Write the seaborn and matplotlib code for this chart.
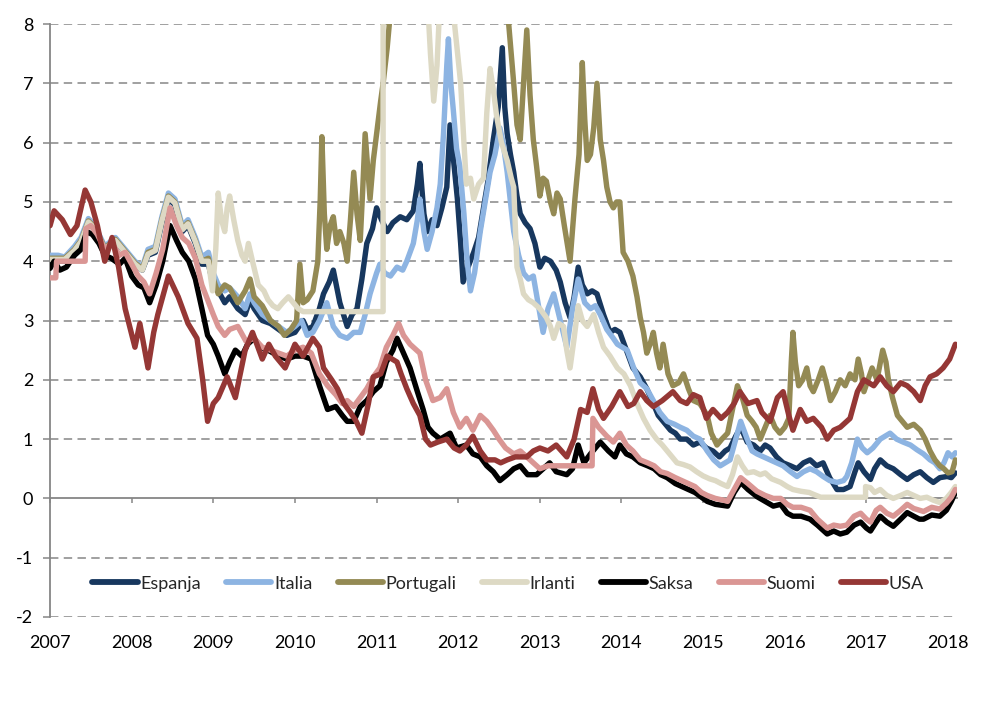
import matplotlib
matplotlib.use("Agg")
import matplotlib.pyplot as plt
import seaborn as sns
import pandas as pd

sns.set_style("white")
plt.rcParams["font.family"] = ["Lato", "DejaVu Sans"]
plt.rcParams["axes.unicode_minus"] = False

# (decimal year, yield %)
espanja = [
    (2007.0, 4.0), (2007.1, 4.0), (2007.18, 4.0), (2007.3, 4.2), (2007.38, 4.35), (2007.47, 4.65),
    (2007.55, 4.55), (2007.67, 4.2), (2007.8, 4.35), (2007.92, 4.15), (2008.04, 3.95), (2008.13, 3.85),
    (2008.2, 4.1), (2008.29, 4.15), (2008.37, 4.65), (2008.45, 5.05), (2008.53, 4.95), (2008.62, 4.5),
    (2008.69, 4.6), (2008.78, 4.3), (2008.86, 3.95), (2008.94, 3.95), (2009.0, 3.6), (2009.06, 3.5),
    (2009.14, 3.3), (2009.2, 3.4), (2009.3, 3.2), (2009.39, 3.1), (2009.45, 3.35), (2009.5, 3.2),
    (2009.6, 3.0), (2009.7, 2.95), (2009.8, 2.85), (2009.9, 2.75), (2010.0, 2.8), (2010.1, 3.0),
    (2010.15, 2.85), (2010.22, 2.9), (2010.3, 3.2), (2010.35, 3.45), (2010.42, 3.65), (2010.47, 3.85),
    (2010.55, 3.3), (2010.64, 2.9), (2010.7, 3.1), (2010.76, 3.2), (2010.82, 3.7), (2010.88, 4.3),
    (2010.95, 4.55), (2011.0, 4.9), (2011.06, 4.7), (2011.13, 4.5), (2011.2, 4.65), (2011.29, 4.75),
    (2011.37, 4.7), (2011.45, 4.85), (2011.5, 5.3), (2011.53, 5.65), (2011.58, 4.8), (2011.62, 4.5),
    (2011.68, 4.7), (2011.74, 4.6), (2011.8, 4.9), (2011.86, 5.25), (2011.9, 6.3), (2011.95, 5.6),
    (2011.99, 5.05), (2012.03, 4.3), (2012.06, 3.65), (2012.12, 3.9), (2012.19, 4.15), (2012.25, 4.4),
    (2012.31, 4.9), (2012.37, 5.4), (2012.43, 6.05), (2012.49, 6.6), (2012.54, 7.6), (2012.57, 6.6),
    (2012.6, 6.15), (2012.64, 5.8), (2012.68, 5.5), (2012.72, 5.1), (2012.76, 4.8), (2012.82, 4.65),
    (2012.88, 4.55), (2012.94, 4.3), (2013.0, 3.9), (2013.06, 4.05), (2013.13, 4.0), (2013.2, 3.85),
    (2013.25, 3.65), (2013.31, 3.3), (2013.37, 3.05), (2013.42, 3.4), (2013.47, 3.9), (2013.52, 3.6),
    (2013.58, 3.45), (2013.64, 3.5), (2013.7, 3.45), (2013.78, 3.1), (2013.86, 2.8), (2013.92, 2.85),
    (2013.98, 2.8), (2014.06, 2.5), (2014.14, 2.2), (2014.23, 2.05), (2014.31, 1.85), (2014.39, 1.6),
    (2014.45, 1.4), (2014.51, 1.3), (2014.6, 1.15), (2014.66, 1.1), (2014.72, 1.0), (2014.8, 1.0),
    (2014.88, 0.9), (2014.96, 0.95), (2015.04, 0.85), (2015.12, 0.8), (2015.2, 0.7), (2015.27, 0.8),
    (2015.33, 0.85), (2015.4, 1.05), (2015.46, 1.2), (2015.54, 0.95), (2015.62, 0.9), (2015.7, 0.8),
    (2015.76, 0.9), (2015.82, 0.85), (2015.9, 0.7), (2015.98, 0.6), (2016.07, 0.55), (2016.15, 0.5),
    (2016.23, 0.6), (2016.31, 0.65), (2016.39, 0.55), (2016.47, 0.6), (2016.55, 0.35), (2016.64, 0.15),
    (2016.72, 0.15), (2016.8, 0.2), (2016.86, 0.45), (2016.9, 0.6), (2016.97, 0.45), (2017.05, 0.32),
    (2017.1, 0.5), (2017.17, 0.65), (2017.25, 0.55), (2017.33, 0.5), (2017.42, 0.4), (2017.5, 0.32),
    (2017.58, 0.4), (2017.66, 0.45), (2017.74, 0.35), (2017.82, 0.27), (2017.9, 0.35), (2017.99, 0.37),
    (2018.04, 0.35), (2018.09, 0.43),
]

italia = [
    (2007.0, 4.1), (2007.1, 4.1), (2007.18, 4.07), (2007.3, 4.25), (2007.38, 4.4), (2007.47, 4.72),
    (2007.55, 4.6), (2007.67, 4.25), (2007.8, 4.4), (2007.92, 4.2), (2008.04, 4.0), (2008.13, 3.9),
    (2008.2, 4.2), (2008.29, 4.25), (2008.37, 4.75), (2008.45, 5.15), (2008.53, 5.05), (2008.62, 4.6),
    (2008.69, 4.7), (2008.78, 4.4), (2008.86, 4.07), (2008.94, 4.15), (2009.0, 3.8), (2009.06, 3.6),
    (2009.14, 3.5), (2009.2, 3.55), (2009.3, 3.4), (2009.39, 3.2), (2009.45, 3.45), (2009.5, 3.3),
    (2009.6, 3.1), (2009.7, 3.0), (2009.8, 2.9), (2009.9, 2.8), (2010.0, 2.9), (2010.08, 3.0),
    (2010.15, 2.75), (2010.22, 2.8), (2010.3, 3.0), (2010.39, 3.3), (2010.47, 2.9), (2010.55, 2.75),
    (2010.64, 2.7), (2010.72, 2.8), (2010.8, 2.8), (2010.86, 3.1), (2010.92, 3.45), (2011.0, 3.8),
    (2011.04, 3.95), (2011.1, 3.8), (2011.17, 3.75), (2011.25, 3.9), (2011.32, 3.85), (2011.37, 4.0),
    (2011.45, 4.3), (2011.5, 4.7), (2011.53, 5.05), (2011.58, 4.5), (2011.62, 4.2), (2011.68, 4.5),
    (2011.74, 4.9), (2011.78, 5.3), (2011.82, 6.15), (2011.86, 7.3), (2011.88, 7.75), (2011.91, 7.0),
    (2011.94, 6.55), (2011.98, 5.9), (2012.02, 5.6), (2012.07, 4.8), (2012.11, 4.0), (2012.15, 3.5),
    (2012.2, 3.8), (2012.27, 4.5), (2012.33, 5.0), (2012.39, 5.5), (2012.45, 5.8), (2012.51, 6.25),
    (2012.55, 6.0), (2012.6, 5.5), (2012.64, 5.0), (2012.68, 4.5), (2012.74, 4.1), (2012.8, 3.8),
    (2012.86, 3.7), (2012.92, 3.75), (2012.97, 3.35), (2013.04, 2.8), (2013.1, 3.2), (2013.17, 3.45),
    (2013.25, 3.0), (2013.33, 2.55), (2013.4, 3.2), (2013.47, 3.7), (2013.55, 3.3), (2013.62, 3.2),
    (2013.68, 3.25), (2013.74, 3.1), (2013.82, 2.85), (2013.9, 2.7), (2013.95, 2.6), (2014.07, 2.5),
    (2014.15, 2.2), (2014.23, 1.95), (2014.31, 1.85), (2014.39, 1.65), (2014.47, 1.45), (2014.56, 1.3),
    (2014.65, 1.25), (2014.72, 1.2), (2014.8, 1.15), (2014.88, 1.05), (2014.96, 1.0), (2015.05, 0.8),
    (2015.13, 0.65), (2015.21, 0.55), (2015.27, 0.6), (2015.33, 0.65), (2015.4, 1.0), (2015.46, 1.3),
    (2015.54, 1.0), (2015.6, 0.8), (2015.66, 0.75), (2015.74, 0.7), (2015.82, 0.65), (2015.9, 0.6),
    (2015.98, 0.55), (2016.07, 0.45), (2016.15, 0.37), (2016.23, 0.45), (2016.31, 0.5), (2016.39, 0.45),
    (2016.47, 0.37), (2016.55, 0.3), (2016.64, 0.27), (2016.72, 0.3), (2016.76, 0.37), (2016.82, 0.6),
    (2016.89, 1.0), (2016.95, 0.85), (2017.01, 0.77), (2017.08, 0.85), (2017.17, 1.0), (2017.23, 1.05),
    (2017.29, 1.1), (2017.37, 1.0), (2017.45, 0.95), (2017.54, 0.9), (2017.62, 0.82), (2017.7, 0.75),
    (2017.78, 0.65), (2017.84, 0.6), (2017.9, 0.5), (2017.95, 0.6), (2018.0, 0.77), (2018.05, 0.7),
    (2018.09, 0.77),
]

portugali = [
    (2007.0, 4.05), (2007.1, 4.05), (2007.18, 4.05), (2007.3, 4.2), (2007.38, 4.35), (2007.47, 4.68),
    (2007.55, 4.57), (2007.67, 4.22), (2007.8, 4.37), (2007.92, 4.17), (2008.04, 3.97), (2008.13, 3.87),
    (2008.2, 4.15), (2008.29, 4.2), (2008.37, 4.7), (2008.45, 5.1), (2008.53, 5.0), (2008.62, 4.55),
    (2008.69, 4.65), (2008.78, 4.35), (2008.86, 4.0), (2008.94, 4.05), (2009.0, 3.7), (2009.06, 3.45),
    (2009.14, 3.6), (2009.2, 3.55), (2009.3, 3.3), (2009.39, 3.5), (2009.45, 3.7), (2009.5, 3.4),
    (2009.6, 3.25), (2009.7, 3.0), (2009.8, 2.9), (2009.87, 2.75), (2009.95, 2.85), (2010.02, 3.0),
    (2010.06, 3.95), (2010.1, 3.3), (2010.15, 3.35), (2010.22, 3.5), (2010.28, 4.0), (2010.31, 5.05),
    (2010.33, 6.1), (2010.36, 4.8), (2010.39, 4.2), (2010.43, 4.6), (2010.47, 4.75), (2010.51, 4.3),
    (2010.55, 4.5), (2010.6, 4.3), (2010.64, 4.0), (2010.68, 4.7), (2010.72, 5.5), (2010.76, 4.8),
    (2010.8, 4.35), (2010.83, 5.2), (2010.86, 6.15), (2010.89, 5.6), (2010.92, 5.05), (2010.96, 5.7),
    (2011.0, 6.15), (2011.05, 6.7), (2011.08, 7.0), (2011.13, 7.6), (2011.17, 8.2), (2011.25, 9.5),
    (2011.5, 11.0), (2012.0, 13.0), (2012.4, 10.0), (2012.6, 8.3), (2012.68, 7.0), (2012.72, 6.3),
    (2012.76, 6.05), (2012.8, 7.0), (2012.84, 7.9), (2012.88, 6.8), (2012.92, 6.05), (2012.96, 5.6),
    (2013.0, 5.1), (2013.04, 5.4), (2013.08, 5.35), (2013.13, 5.0), (2013.17, 4.8), (2013.21, 5.15),
    (2013.25, 5.05), (2013.3, 4.6), (2013.37, 4.0), (2013.43, 5.05), (2013.48, 5.8), (2013.52, 7.35),
    (2013.55, 6.4), (2013.58, 5.7), (2013.62, 5.8), (2013.66, 6.25), (2013.7, 7.0), (2013.74, 6.05),
    (2013.78, 5.7), (2013.82, 5.25), (2013.86, 5.0), (2013.9, 4.9), (2013.94, 5.0), (2013.98, 5.0),
    (2014.02, 4.15), (2014.08, 4.0), (2014.14, 3.75), (2014.19, 3.4), (2014.23, 3.05), (2014.27, 2.8),
    (2014.31, 2.45), (2014.35, 2.6), (2014.39, 2.8), (2014.43, 2.45), (2014.47, 2.2), (2014.51, 2.6),
    (2014.57, 2.1), (2014.63, 1.9), (2014.7, 1.95), (2014.76, 2.1), (2014.82, 1.85), (2014.88, 1.65),
    (2014.96, 1.6), (2015.05, 1.4), (2015.1, 1.1), (2015.17, 0.9), (2015.23, 1.0), (2015.3, 1.1),
    (2015.36, 1.5), (2015.42, 1.9), (2015.48, 1.7), (2015.54, 1.4), (2015.6, 1.3), (2015.65, 1.2),
    (2015.7, 1.0), (2015.76, 1.2), (2015.82, 1.4), (2015.88, 1.2), (2015.94, 1.1), (2016.0, 1.2),
    (2016.05, 1.35), (2016.08, 2.3), (2016.1, 2.8), (2016.13, 2.3), (2016.17, 1.9), (2016.22, 2.0),
    (2016.27, 2.2), (2016.31, 1.9), (2016.35, 1.8), (2016.41, 2.0), (2016.46, 2.2), (2016.51, 1.95),
    (2016.56, 1.65), (2016.62, 1.8), (2016.68, 2.0), (2016.74, 1.9), (2016.8, 2.1), (2016.86, 2.0),
    (2016.9, 2.35), (2016.94, 2.1), (2016.97, 1.8), (2017.02, 2.0), (2017.07, 2.2), (2017.13, 2.0),
    (2017.2, 2.5), (2017.24, 2.3), (2017.27, 2.0), (2017.32, 1.7), (2017.38, 1.4), (2017.44, 1.3),
    (2017.5, 1.2), (2017.58, 1.25), (2017.66, 1.15), (2017.72, 1.0), (2017.78, 0.8), (2017.84, 0.65),
    (2017.9, 0.55), (2017.95, 0.5), (2018.0, 0.43), (2018.05, 0.45), (2018.09, 0.65),
]

irlanti = [
    (2007.0, 4.03), (2007.1, 4.03), (2007.18, 4.03), (2007.3, 4.18), (2007.38, 4.33), (2007.47, 4.66),
    (2007.55, 4.55), (2007.67, 4.2), (2007.8, 4.35), (2007.92, 4.15), (2008.04, 3.95), (2008.13, 3.85),
    (2008.2, 4.12), (2008.29, 4.18), (2008.37, 4.68), (2008.45, 5.08), (2008.53, 4.98), (2008.62, 4.53),
    (2008.69, 4.63), (2008.78, 4.33), (2008.86, 4.0), (2008.94, 4.0), (2008.99, 3.5), (2009.03, 4.2),
    (2009.06, 5.15), (2009.1, 4.7), (2009.14, 4.5), (2009.17, 4.9), (2009.2, 5.1), (2009.25, 4.7),
    (2009.3, 4.35), (2009.35, 4.1), (2009.39, 4.0), (2009.43, 4.3), (2009.48, 4.0), (2009.55, 3.6),
    (2009.62, 3.5), (2009.67, 3.35), (2009.73, 3.25), (2009.79, 3.2), (2009.85, 3.3), (2009.92, 3.4),
    (2009.98, 3.3), (2010.04, 3.2), (2010.1, 3.15), (2011.08, 3.15), (2011.08, 10.0), (2011.6, 9.0),
    (2011.66, 7.5), (2011.7, 6.7), (2011.74, 7.3), (2011.78, 8.5), (2011.88, 9.5), (2011.94, 8.2),
    (2012.03, 7.0), (2012.07, 6.0), (2012.1, 5.3), (2012.15, 5.4), (2012.19, 5.05), (2012.25, 5.3),
    (2012.31, 5.4), (2012.35, 6.5), (2012.39, 7.25), (2012.43, 6.9), (2012.47, 6.45), (2012.53, 6.0),
    (2012.6, 5.7), (2012.65, 5.4), (2012.68, 5.25), (2012.72, 3.9), (2012.76, 3.7), (2012.8, 3.45),
    (2012.86, 3.35), (2012.92, 3.3), (2013.0, 3.2), (2013.08, 3.05), (2013.13, 2.9), (2013.17, 2.7),
    (2013.23, 2.95), (2013.29, 2.9), (2013.33, 2.5), (2013.37, 2.2), (2013.42, 2.7), (2013.47, 3.25),
    (2013.52, 3.0), (2013.58, 2.9), (2013.66, 3.1), (2013.72, 2.8), (2013.78, 2.55), (2013.86, 2.4),
    (2013.95, 2.2), (2014.03, 2.1), (2014.11, 1.9), (2014.19, 1.6), (2014.27, 1.35), (2014.35, 1.15),
    (2014.43, 1.0), (2014.5, 0.9), (2014.56, 0.8), (2014.62, 0.7), (2014.68, 0.6), (2014.76, 0.57),
    (2014.84, 0.53), (2014.92, 0.45), (2015.0, 0.38), (2015.08, 0.33), (2015.15, 0.3), (2015.22, 0.25),
    (2015.3, 0.2), (2015.36, 0.4), (2015.42, 0.7), (2015.48, 0.55), (2015.54, 0.43), (2015.62, 0.45),
    (2015.7, 0.4), (2015.76, 0.43), (2015.84, 0.33), (2015.95, 0.27), (2016.03, 0.2), (2016.1, 0.15),
    (2016.2, 0.12), (2016.3, 0.1), (2016.35, 0.07), (2016.44, 0.02), (2016.99, 0.02), (2016.99, 0.2),
    (2017.05, 0.18), (2017.1, 0.1), (2017.17, 0.15), (2017.25, 0.05), (2017.33, 0.0), (2017.42, 0.05),
    (2017.5, 0.1), (2017.58, 0.05), (2017.66, 0.0), (2017.74, 0.02), (2017.82, -0.03), (2017.9, -0.07),
    (2017.98, 0.0), (2018.04, 0.1), (2018.09, 0.2),
]

saksa = [
    (2007.0, 3.88), (2007.05, 4.0), (2007.12, 3.85), (2007.2, 3.9), (2007.3, 4.1), (2007.38, 4.2),
    (2007.45, 4.5), (2007.52, 4.45), (2007.6, 4.3), (2007.67, 4.1), (2007.75, 4.05), (2007.85, 3.95),
    (2007.92, 4.05), (2008.0, 3.75), (2008.08, 3.6), (2008.15, 3.55), (2008.22, 3.3), (2008.3, 3.6),
    (2008.38, 4.0), (2008.47, 4.6), (2008.55, 4.35), (2008.62, 4.15), (2008.7, 4.0), (2008.78, 3.7),
    (2008.86, 3.2), (2008.93, 2.75), (2009.0, 2.6), (2009.06, 2.4), (2009.14, 2.1), (2009.2, 2.3),
    (2009.27, 2.5), (2009.35, 2.4), (2009.42, 2.6), (2009.5, 2.7), (2009.58, 2.55), (2009.67, 2.5),
    (2009.8, 2.4), (2009.9, 2.35), (2010.0, 2.4), (2010.1, 2.4), (2010.2, 2.35), (2010.3, 1.9),
    (2010.4, 1.5), (2010.5, 1.55), (2010.58, 1.4), (2010.64, 1.3), (2010.72, 1.3), (2010.8, 1.55),
    (2010.88, 1.65), (2010.96, 1.8), (2011.04, 1.9), (2011.12, 2.3), (2011.2, 2.5), (2011.25, 2.7),
    (2011.33, 2.45), (2011.41, 2.2), (2011.5, 1.8), (2011.57, 1.5), (2011.63, 1.2), (2011.69, 1.1),
    (2011.78, 1.0), (2011.9, 1.1), (2011.98, 0.85), (2012.1, 0.9), (2012.18, 0.75), (2012.27, 0.7),
    (2012.35, 0.55), (2012.43, 0.45), (2012.51, 0.3), (2012.6, 0.4), (2012.68, 0.5), (2012.76, 0.55),
    (2012.85, 0.4), (2012.96, 0.4), (2013.04, 0.5), (2013.12, 0.6), (2013.2, 0.45), (2013.33, 0.4),
    (2013.4, 0.5), (2013.47, 0.9), (2013.54, 0.6), (2013.62, 0.75), (2013.74, 0.95), (2013.84, 0.8),
    (2013.92, 0.7), (2013.98, 0.9), (2014.06, 0.75), (2014.14, 0.7), (2014.23, 0.6), (2014.32, 0.55),
    (2014.4, 0.5), (2014.48, 0.4), (2014.56, 0.35), (2014.66, 0.25), (2014.74, 0.2), (2014.82, 0.15),
    (2014.9, 0.1), (2014.98, 0.02), (2015.05, -0.05), (2015.15, -0.1), (2015.25, -0.12), (2015.3, -0.13),
    (2015.38, 0.1), (2015.46, 0.27), (2015.55, 0.15), (2015.66, 0.03), (2015.76, -0.05), (2015.86, -0.13),
    (2015.95, -0.1), (2016.03, -0.25), (2016.1, -0.3), (2016.2, -0.3), (2016.31, -0.35), (2016.4, -0.45),
    (2016.52, -0.6), (2016.6, -0.55), (2016.68, -0.6), (2016.76, -0.57), (2016.85, -0.45), (2016.93, -0.4),
    (2017.0, -0.5), (2017.05, -0.55), (2017.12, -0.4), (2017.17, -0.3), (2017.25, -0.4), (2017.33, -0.47),
    (2017.42, -0.35), (2017.5, -0.24), (2017.58, -0.3), (2017.65, -0.35), (2017.7, -0.35), (2017.8, -0.28),
    (2017.9, -0.3), (2017.98, -0.2), (2018.04, -0.05), (2018.09, 0.1),
]

suomi = [
    (2007.0, 3.72), (2007.07, 3.72), (2007.08, 4.0), (2007.43, 4.0), (2007.44, 4.55), (2007.5, 4.6),
    (2007.58, 4.45), (2007.67, 4.2), (2007.76, 4.3), (2007.85, 4.1), (2007.92, 4.15), (2008.0, 3.95),
    (2008.08, 3.75), (2008.15, 3.65), (2008.22, 3.45), (2008.3, 3.8), (2008.38, 4.2), (2008.47, 4.9),
    (2008.55, 4.6), (2008.62, 4.4), (2008.7, 4.3), (2008.78, 4.05), (2008.86, 3.6), (2008.93, 3.35),
    (2009.0, 3.1), (2009.06, 2.9), (2009.14, 2.75), (2009.2, 2.85), (2009.3, 2.9), (2009.4, 2.65),
    (2009.5, 2.7), (2009.6, 2.55), (2009.7, 2.5), (2009.8, 2.45), (2009.9, 2.4), (2010.0, 2.5),
    (2010.1, 2.55), (2010.2, 2.45), (2010.3, 2.1), (2010.4, 1.9), (2010.5, 1.75), (2010.58, 1.6),
    (2010.64, 1.65), (2010.72, 1.55), (2010.8, 1.7), (2010.88, 1.85), (2010.96, 2.05), (2011.04, 2.2),
    (2011.12, 2.55), (2011.2, 2.75), (2011.27, 2.95), (2011.33, 2.75), (2011.41, 2.6), (2011.53, 2.45),
    (2011.6, 2.0), (2011.69, 1.65), (2011.78, 1.7), (2011.86, 1.85), (2011.94, 1.45), (2012.02, 1.2),
    (2012.1, 1.35), (2012.18, 1.15), (2012.27, 1.4), (2012.35, 1.3), (2012.43, 1.15), (2012.5, 1.0),
    (2012.58, 0.85), (2012.68, 0.75), (2012.76, 0.8), (2012.88, 0.65), (2012.96, 0.55), (2013.0, 0.5),
    (2013.1, 0.55), (2013.2, 0.55), (2013.64, 0.55), (2013.65, 1.35), (2013.72, 1.2), (2013.82, 1.05),
    (2013.9, 0.95), (2013.98, 1.1), (2014.06, 0.9), (2014.14, 0.8), (2014.23, 0.65), (2014.32, 0.6),
    (2014.4, 0.55), (2014.48, 0.45), (2014.56, 0.42), (2014.66, 0.35), (2014.74, 0.3), (2014.82, 0.25),
    (2014.9, 0.2), (2014.98, 0.1), (2015.05, 0.05), (2015.15, 0.0), (2015.25, -0.03), (2015.3, -0.05),
    (2015.38, 0.15), (2015.46, 0.35), (2015.55, 0.25), (2015.66, 0.12), (2015.76, 0.05), (2015.86, 0.0),
    (2015.95, 0.0), (2016.03, -0.1), (2016.1, -0.15), (2016.2, -0.15), (2016.31, -0.2), (2016.4, -0.35),
    (2016.52, -0.5), (2016.6, -0.45), (2016.68, -0.47), (2016.76, -0.45), (2016.85, -0.3), (2016.93, -0.25),
    (2017.0, -0.35), (2017.05, -0.4), (2017.12, -0.2), (2017.17, -0.15), (2017.25, -0.25), (2017.33, -0.3),
    (2017.42, -0.2), (2017.5, -0.1), (2017.58, -0.17), (2017.65, -0.2), (2017.7, -0.22), (2017.8, -0.15),
    (2017.9, -0.18), (2017.98, -0.08), (2018.04, 0.02), (2018.09, 0.15),
]

usa = [
    (2007.0, 4.6), (2007.05, 4.85), (2007.15, 4.7), (2007.25, 4.45), (2007.33, 4.6), (2007.43, 5.2),
    (2007.5, 5.0), (2007.58, 4.6), (2007.67, 4.0), (2007.76, 4.4), (2007.84, 3.9), (2007.92, 3.2),
    (2008.04, 2.55), (2008.1, 2.95), (2008.2, 2.2), (2008.27, 2.8), (2008.32, 3.1), (2008.45, 3.75),
    (2008.57, 3.4), (2008.69, 2.95), (2008.8, 2.7), (2008.87, 2.0), (2008.93, 1.3), (2009.0, 1.6),
    (2009.06, 1.7), (2009.17, 2.05), (2009.27, 1.7), (2009.39, 2.5), (2009.48, 2.8), (2009.6, 2.35),
    (2009.68, 2.6), (2009.76, 2.4), (2009.88, 2.2), (2010.0, 2.6), (2010.1, 2.4), (2010.22, 2.7),
    (2010.3, 2.55), (2010.35, 2.2), (2010.45, 2.0), (2010.52, 1.85), (2010.6, 1.6), (2010.68, 1.45),
    (2010.75, 1.3), (2010.82, 1.1), (2010.9, 1.6), (2010.96, 2.05), (2011.05, 2.1), (2011.13, 2.4),
    (2011.25, 2.3), (2011.3, 2.1), (2011.37, 1.85), (2011.45, 1.6), (2011.53, 1.4), (2011.6, 1.0),
    (2011.66, 0.9), (2011.75, 0.95), (2011.86, 1.0), (2011.95, 0.85), (2012.02, 0.8), (2012.1, 0.9),
    (2012.18, 1.05), (2012.27, 0.8), (2012.35, 0.65), (2012.45, 0.65), (2012.52, 0.6), (2012.6, 0.65),
    (2012.7, 0.7), (2012.84, 0.7), (2012.92, 0.8), (2013.0, 0.85), (2013.1, 0.8), (2013.2, 0.9),
    (2013.33, 0.7), (2013.42, 1.0), (2013.5, 1.5), (2013.58, 1.45), (2013.65, 1.85), (2013.72, 1.5),
    (2013.78, 1.35), (2013.88, 1.55), (2013.98, 1.8), (2014.08, 1.55), (2014.15, 1.6), (2014.23, 1.8),
    (2014.31, 1.65), (2014.39, 1.55), (2014.5, 1.65), (2014.63, 1.8), (2014.72, 1.65), (2014.8, 1.6),
    (2014.88, 1.75), (2014.96, 1.7), (2015.04, 1.35), (2015.12, 1.5), (2015.22, 1.35), (2015.3, 1.45),
    (2015.38, 1.6), (2015.45, 1.8), (2015.55, 1.6), (2015.66, 1.65), (2015.72, 1.45), (2015.82, 1.3),
    (2015.91, 1.7), (2015.98, 1.8), (2016.05, 1.4), (2016.1, 1.15), (2016.19, 1.5), (2016.27, 1.3),
    (2016.35, 1.35), (2016.45, 1.2), (2016.52, 1.0), (2016.6, 1.15), (2016.68, 1.2), (2016.8, 1.35),
    (2016.89, 1.8), (2016.97, 2.0), (2017.09, 1.9), (2017.17, 2.05), (2017.25, 1.9), (2017.33, 1.8),
    (2017.42, 1.95), (2017.5, 1.9), (2017.58, 1.8), (2017.66, 1.65), (2017.72, 1.9), (2017.78, 2.05),
    (2017.86, 2.1), (2017.94, 2.2), (2018.02, 2.35), (2018.09, 2.6),
]

series = {
    "Espanja": espanja,
    "Italia": italia,
    "Portugali": portugali,
    "Irlanti": irlanti,
    "Saksa": saksa,
    "Suomi": suomi,
    "USA": usa,
}
colors = {
    "Espanja": "#17375E",
    "Italia": "#8DB4E2",
    "Portugali": "#948A54",
    "Irlanti": "#DDD9C4",
    "Saksa": "#000000",
    "Suomi": "#DA9694",
    "USA": "#953735",
}
years = list(range(2007, 2019))
yticks = list(range(-2, 9))

fig = plt.figure(figsize=(9.87, 7.07), dpi=100)
ax = fig.add_axes([0.0507, 0.1273, 0.9189, 0.8387])

for name, pts in series.items():
    df = pd.DataFrame(pts, columns=["year", "value"])
    sns.lineplot(data=df, x="year", y="value", ax=ax, color=colors[name], label=name,
                 linewidth=3.9, sort=False, estimator=None, zorder=3)

ax.set_xlim(2007, 2018.11)
ax.set_ylim(-2, 8)
ax.set_xlabel("")
ax.set_ylabel("")

grey = "#868686"
ax.set_yticks(yticks)
ax.set_yticklabels([str(v) for v in yticks])
ax.set_xticks(years)
ax.set_xticklabels([str(y) for y in years])
for v in yticks:
    if v != 0:
        ax.axhline(v, color=grey, linewidth=1.1, linestyle=(0, (5.5, 3.5)), zorder=1)

for s in ["top", "right"]:
    ax.spines[s].set_visible(False)
ax.spines["left"].set_color(grey)
ax.spines["left"].set_linewidth(1.3)
ax.spines["bottom"].set_position(("data", 0))
ax.spines["bottom"].set_color(grey)
ax.spines["bottom"].set_linewidth(1.3)

ax.tick_params(axis="y", direction="out", length=5, width=1.1, color=grey,
               labelsize=13, labelcolor="black", pad=7, left=True)
ax.tick_params(axis="x", direction="out", length=3.5, width=1.1, color=grey,
               labelsize=13, labelcolor="black", pad=95, bottom=True)

leg = ax.legend(loc="center", bbox_to_anchor=(0.505, 0.056), ncol=7, frameon=False,
                fontsize=13, handlelength=2.5, handletextpad=0.15, columnspacing=1.4,
                borderaxespad=0)
for line in leg.get_lines():
    line.set_linewidth(4.2)

fig.savefig("out.png", dpi=100)
